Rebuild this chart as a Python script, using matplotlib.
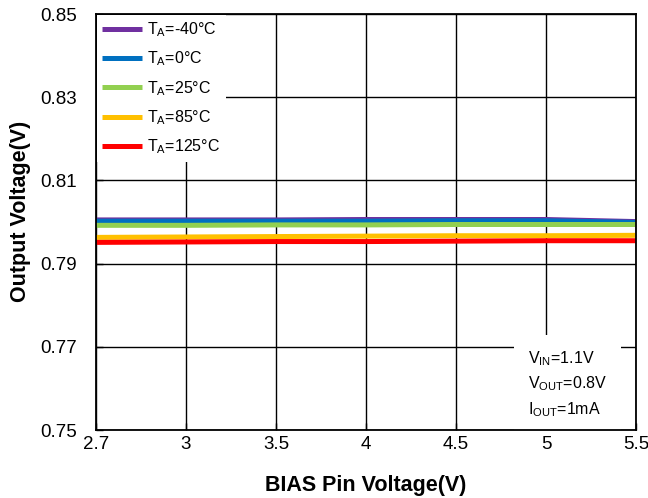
import matplotlib
matplotlib.use("Agg")
import matplotlib.pyplot as plt

plt.rcParams['font.family'] = ['Liberation Sans', 'DejaVu Sans']
plt.rcParams['mathtext.fontset'] = 'custom'
plt.rcParams['mathtext.rm'] = 'Liberation Sans'
plt.rcParams['mathtext.it'] = 'Liberation Sans:italic'
plt.rcParams['mathtext.bf'] = 'Liberation Sans:bold'

# BIAS pin voltage sweep (V), shown as evenly spaced categories
bias_v = ['2.7', '3', '3.5', '4', '4.5', '5', '5.5']

# Output voltage (V) per ambient temperature
vout_m40 = [0.8005, 0.8005, 0.8005, 0.8006, 0.8006, 0.8006, 0.8001]
vout_0 = [0.8002, 0.8002, 0.8002, 0.8002, 0.8003, 0.8003, 0.7999]
vout_25 = [0.7992, 0.7992, 0.7993, 0.7993, 0.7994, 0.7994, 0.7994]
vout_85 = [0.7963, 0.7964, 0.7965, 0.7966, 0.7967, 0.7967, 0.7968]
vout_125 = [0.7951, 0.7952, 0.7953, 0.7953, 0.7954, 0.7955, 0.7955]

series_labels = [r'T$_\mathrm{A}$=-40°C', r'T$_\mathrm{A}$=0°C', r'T$_\mathrm{A}$=25°C',
                 r'T$_\mathrm{A}$=85°C', r'T$_\mathrm{A}$=125°C']
series_colors = ['#7030A0', '#0070C0', '#92D050', '#FFC000', '#FF0000']

y_ticks = [0.75, 0.77, 0.79, 0.81, 0.83, 0.85]
y_ticklabels = ['0.75', '0.77', '0.79', '0.81', '0.83', '0.85']

fig = plt.figure(figsize=(6.48, 4.98), dpi=100)
ax = fig.add_axes([96 / 648, 68 / 498, 540 / 648, 416 / 498])

for vals, lab, col in zip([vout_m40, vout_0, vout_25, vout_85, vout_125],
                          series_labels, series_colors):
    ax.plot(bias_v, vals, color=col, lw=3.6, label=lab, solid_capstyle='butt', zorder=3)

ax.set_xlim(0, len(bias_v) - 1)
ax.set_ylim(0.75, 0.85)
ax.set_yticks(y_ticks)
ax.set_yticklabels(y_ticklabels)
ax.tick_params(axis='both', direction='in', length=5, width=1, labelsize=13.5, colors='black')
ax.tick_params(axis='x', pad=4)
ax.tick_params(axis='y', pad=14)
ax.grid(True, color='black', lw=1.0, zorder=1)
for s in ax.spines.values():
    s.set_linewidth(1.3)
    s.set_color('black')
    s.set_zorder(6)

ax.set_xlabel('BIAS Pin Voltage(V)', fontsize=15.5, fontweight='bold', labelpad=16)
ax.set_ylabel('Output Voltage(V)', fontsize=15.5, fontweight='bold', labelpad=8)
ax.yaxis.set_label_coords(-0.12, 0.525)

leg = ax.legend(loc='upper left', fontsize=11.5, frameon=True, fancybox=False,
                framealpha=1, edgecolor='none', facecolor='white',
                handlelength=2.5, handletextpad=0.3, labelspacing=0.66,
                borderaxespad=0.05, borderpad=0.35)
leg.set_zorder(5)

ax.text(0.8, 0.195, 'V$_\\mathrm{IN}$=1.1V\nV$_\\mathrm{OUT}$=0.8V\nI$_\\mathrm{OUT}$=1mA',
        transform=ax.transAxes, fontsize=11.5, va='top', ha='left', linespacing=1.5,
        zorder=5, bbox=dict(boxstyle='square,pad=0.9', facecolor='white', edgecolor='none'))

fig.savefig('out.png', dpi=100)
